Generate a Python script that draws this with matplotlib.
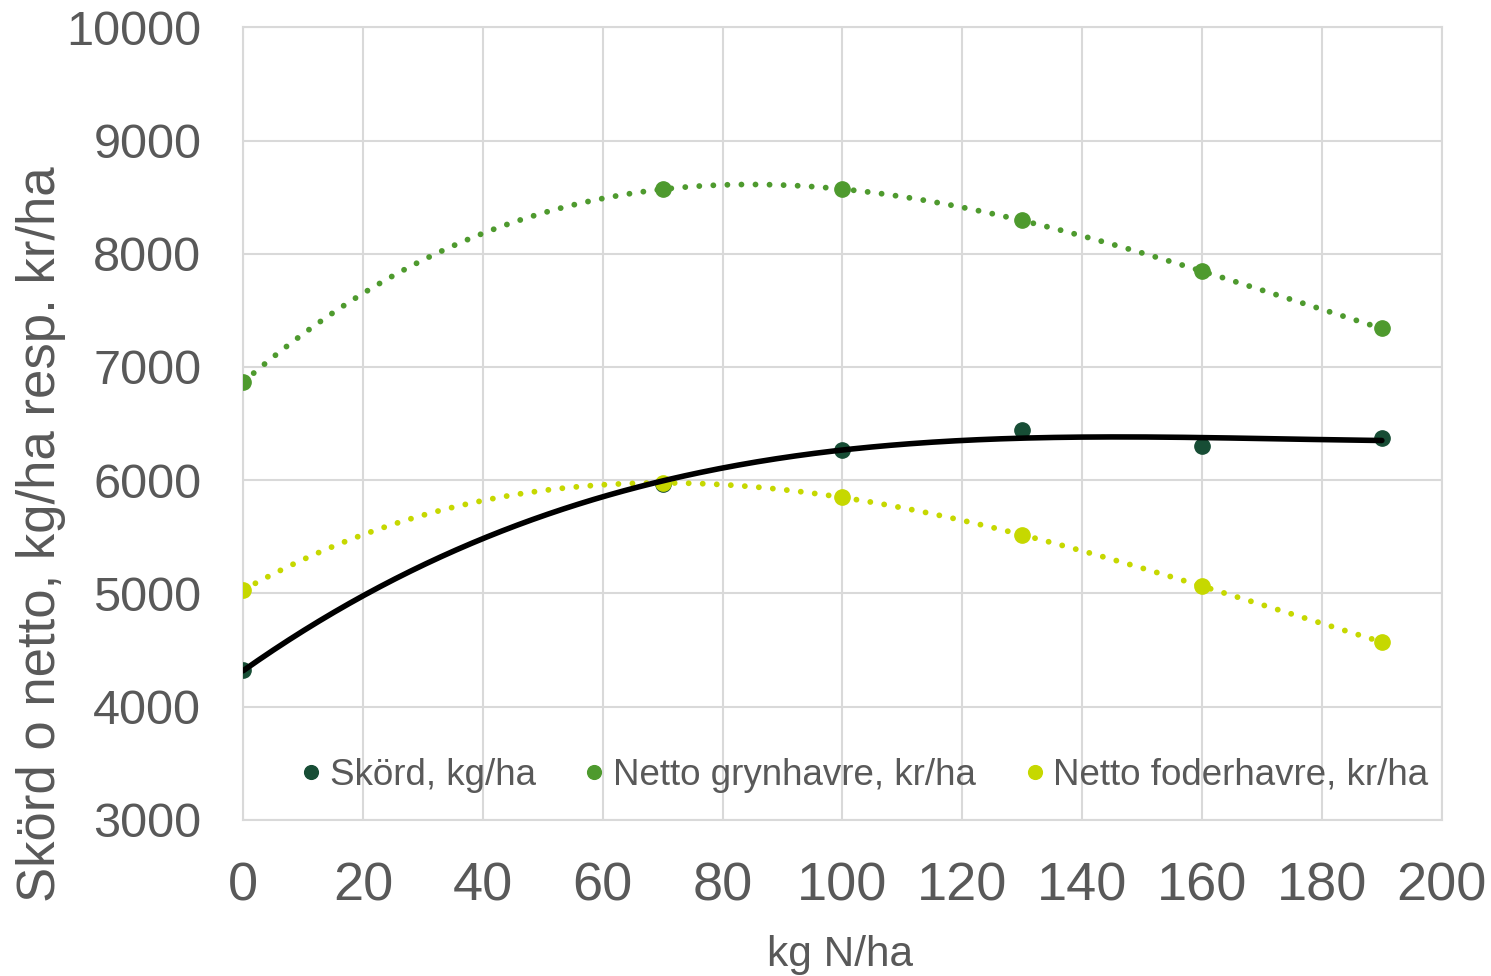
import numpy as np
import matplotlib.pyplot as plt

plt.rcParams["font.family"] = ["Liberation Sans", "DejaVu Sans"]

# Kvävegivor och uppmätta värden
kg_n = [0, 70, 100, 130, 160, 190]
skord = [4320, 5970, 6270, 6440, 6300, 6375]
netto_gryn = [6865, 8570, 8570, 8295, 7845, 7340]
netto_foder = [5030, 5975, 5850, 5515, 5065, 4570]

text_color = "#595959"
grid_color = "#d9d9d9"

fig = plt.figure(figsize=(14.91, 9.76), dpi=100)
ax = fig.add_axes([0.163, 0.160, 0.804, 0.812])

series = [
    ("Skörd, kg/ha", skord, "#174d35", "black", "-"),
    ("Netto grynhavre, kr/ha", netto_gryn, "#4e9a2e", "#4e9a2e", ":"),
    ("Netto foderhavre, kr/ha", netto_foder, "#c6d800", "#c6d800", ":"),
]

# Punkter och polynomtrendlinjer (grad 3)
xs = np.linspace(min(kg_n), max(kg_n), 300)
for label, vals, mcolor, lcolor, ls in series:
    ax.plot(kg_n, vals, "o", color=mcolor, markersize=11, label=label, zorder=3)
    coef = np.polyfit(kg_n, vals, 3)
    if ls == "-":
        ax.plot(xs, np.polyval(coef, xs), color=lcolor, linewidth=4,
                solid_capstyle="round", zorder=5)
    else:
        ax.plot(xs, np.polyval(coef, xs), color=lcolor, linewidth=4.2,
                linestyle=(0, (0.01, 2.4)), dash_capstyle="round", zorder=4)

ax.set_xlim(0, 200)
ax.set_ylim(3000, 10000)
ax.set_xticks(range(0, 201, 20))
ax.set_yticks(range(3000, 10001, 1000))
ax.grid(True, color=grid_color, linewidth=1.5)
ax.set_axisbelow(True)
for s in ax.spines.values():
    s.set_color(grid_color)
    s.set_linewidth(1.5)
ax.tick_params(length=0, labelcolor=text_color)
ax.tick_params(axis="y", labelsize=35, pad=30)
ax.tick_params(axis="x", labelsize=39, pad=30)

ax.set_xlabel("kg N/ha", fontsize=30.5, color=text_color)
ax.xaxis.set_label_coords(0.498, -0.145)
ax.set_ylabel("Skörd o netto, kg/ha resp. kr/ha", fontsize=38, color=text_color)
ax.yaxis.set_label_coords(-0.148, 0.36)

ax.legend(loc="center", bbox_to_anchor=(0.515, 0.056), ncol=3, frameon=False,
          fontsize=26.5, labelcolor=text_color, handletextpad=0.0, columnspacing=1.1,
          markerscale=0.9, handlelength=1.0)

fig.savefig("out.png", dpi=100)
